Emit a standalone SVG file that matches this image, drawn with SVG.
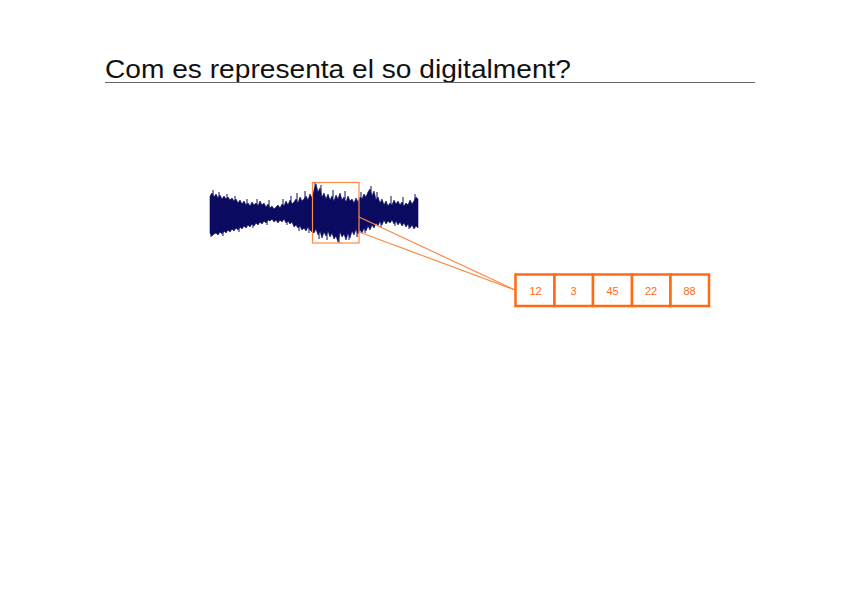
<svg xmlns="http://www.w3.org/2000/svg" width="848" height="599" viewBox="0 0 848 599">
<style>
.title{font-family:"Liberation Sans",Arial,sans-serif;font-size:26px;fill:#111}
.cell{fill:#fff;stroke:#ff6a13;stroke-width:2.5}
.val{font-family:"Liberation Sans",Arial,sans-serif;font-size:11px;fill:#ff6a13;text-anchor:middle}
.thin{fill:none;stroke:#fb8a45;stroke-width:1.2}
</style>
<rect width="848" height="599" fill="#fff"/>
<g id="title">
<text class="title" x="105" y="78" textLength="466" lengthAdjust="spacingAndGlyphs">Com es representa el so digitalment?</text>
<line x1="105" y1="82.5" x2="755" y2="82.5" stroke="#666" stroke-width="1.2"/>
</g>
<g id="waveform">
<polygon fill="#0a0a60" stroke="#0a0a60" stroke-width="0.6" stroke-linejoin="round" points="210,196 212,193 214,197 216,194 218,198 220,195 222,199 224,196 226,199 228,197 230,200 232,198 234,201 236,199 238,203 240,200 242,204 244,201 246,205 248,203 250,206 252,202 254,205 256,203 258,206 260,201 262,205 264,203 266,207 268,204 270,208 272,206 274,209 276,207 278,205 280,208 282,204 284,206 286,201 288,205 290,200 292,204 294,202 296,199 298,203 300,197 302,201 304,199 306,196 308,200 310,194 312,198 314,190 316,184 318,192 320,188 322,197 324,193 326,199 328,194 330,200 332,196 334,201 336,195 338,199 340,193 342,200 344,197 346,202 348,196 350,201 352,199 354,203 356,198 358,202 360,197 362,199 364,194 366,197 368,192 370,189 372,196 374,191 376,200 378,197 380,203 382,199 384,205 386,201 388,206 390,203 392,205 394,200 396,204 398,201 400,205 402,202 404,206 406,203 408,205 410,200 412,204 414,201 416,197 418,199 418,228 416,226 414,229 412,225 410,228 408,224 406,227 404,223 402,226 400,222 398,225 396,221 394,224 392,220 390,223 388,221 386,224 384,220 382,225 380,221 378,226 376,223 374,228 372,225 370,230 368,226 366,231 364,228 362,233 360,230 358,234 356,229 354,235 352,231 350,238 348,233 346,240 344,234 342,237 340,232 338,242 336,236 334,239 332,233 330,237 328,231 326,236 324,232 322,238 320,231 318,235 316,229 314,233 312,232 310,230 308,227 306,231 304,228 302,230 300,226 298,228 296,225 294,227 292,222 290,224 288,221 286,223 284,219 282,222 280,220 278,223 276,220 274,222 272,219 270,221 268,220 266,223 264,221 262,224 260,222 258,225 256,223 254,226 252,224 250,227 248,225 246,228 244,226 242,229 240,227 238,230 236,228 234,231 232,229 230,232 228,230 226,233 224,231 222,234 220,232 218,235 216,233 214,234 212,236 210,233"/>
<path fill="none" stroke="#0a0a60" stroke-width="1" d="M213 190V200 M219 192V200 M227 194V201 M235 196V203 M247 199V206 M257 199V206 M269 200V207 M283 199V206 M291 196V204 M297 193V201 M305 191V199 M315 182V192 M321 185V194 M333 190V198 M345 191V199 M361 192V199 M371 186V195 M377 192V200 M391 196V204 M403 197V204 M415 194V202 M211 232V237 M223 230V236 M239 226V232 M253 223V228 M267 219V225 M287 219V225 M299 224V231 M309 226V233 M319 230V239 M327 232V240 M339 235V243 M349 232V240 M357 228V237 M365 226V233 M381 219V227 M395 219V226 M409 222V229"/>
</g>
<g id="zoom-box">
<rect class="thin" x="312.5" y="182.5" width="46.5" height="60.5"/>
</g>
<g id="connectors">
<line class="thin" x1="359" y1="217" x2="515" y2="290"/>
<line class="thin" x1="359" y1="232" x2="515" y2="290"/>
</g>
<g id="samples">
<g id="s1"><rect class="cell" x="515.5" y="274.5" width="39" height="31.5"/><text class="val" x="535.5" y="295">12</text></g>
<g id="s2"><rect class="cell" x="554.5" y="274.5" width="38.5" height="31.5"/><text class="val" x="573.5" y="295">3</text></g>
<g id="s3"><rect class="cell" x="593" y="274.5" width="39" height="31.5"/><text class="val" x="612.5" y="295">45</text></g>
<g id="s4"><rect class="cell" x="632" y="274.5" width="38.5" height="31.5"/><text class="val" x="651" y="295">22</text></g>
<g id="s5"><rect class="cell" x="670.5" y="274.5" width="38.5" height="31.5"/><text class="val" x="689.5" y="295">88</text></g>
</g>
</svg>
